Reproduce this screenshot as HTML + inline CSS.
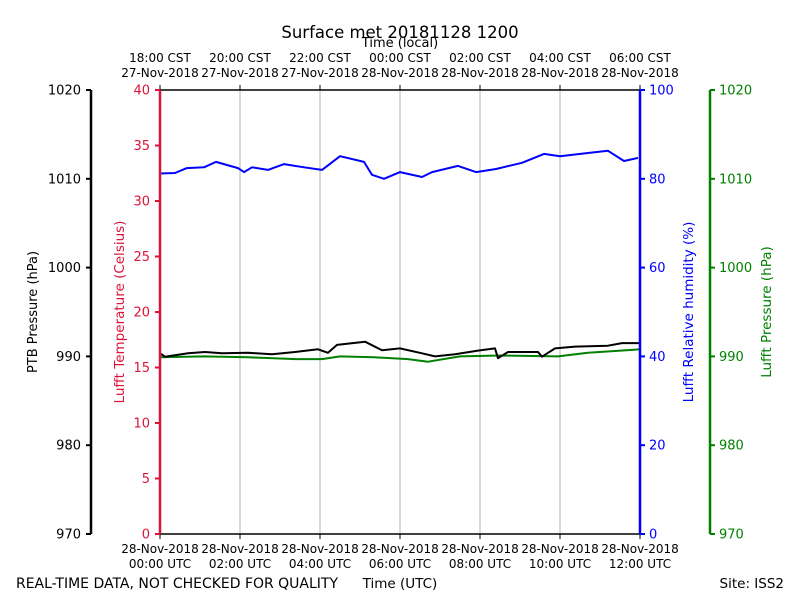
<!DOCTYPE html>
<html><head><meta charset="utf-8"><style>
body{margin:0;background:#fff;}
svg{display:block;font-family:"DejaVu Sans","Liberation Sans",sans-serif;}
</style></head><body>
<svg id="chart" width="800" height="600" viewBox="0 0 800 600" xmlns="http://www.w3.org/2000/svg">
<g id="grid"></g>
<g id="series"></g>
<g id="axes"></g>
<text x="400" y="38" text-anchor="middle" font-size="16.5">Surface met 20181128 1200</text>
<text x="400" y="47" text-anchor="middle" font-size="13">Time (local)</text>
<text x="400" y="588" text-anchor="middle" font-size="13.5">Time (UTC)</text>
<text x="16" y="588" font-size="14" textLength="322">REAL-TIME DATA, NOT CHECKED FOR QUALITY</text>
<text x="784" y="588" text-anchor="end" font-size="13.5">Site: ISS2</text>
<text transform="translate(37,312) rotate(-90)" text-anchor="middle" font-size="13">PTB Pressure (hPa)</text>
<text transform="translate(124,312) rotate(-90)" text-anchor="middle" font-size="13.5" fill="#dc143c">Lufft Temperature (Celsius)</text>
<text transform="translate(693,312) rotate(-90)" text-anchor="middle" font-size="13.5" fill="#0000ff">Lufft Relative humidity (%)</text>
<text transform="translate(771,312) rotate(-90)" text-anchor="middle" font-size="13.5" fill="#008000">Lufft Pressure (hPa)</text>
</svg>
<script>
const rhHours=[0,0.375,0.67,1.1,1.4,1.95,2.1,2.3,2.7,3.1,3.6,4.05,4.5,5.1,5.3,5.6,6,6.55,6.8,7.45,7.9,8.4,9.05,9.6,10,10.7,11.2,11.6,11.95];
const rhValues=[81.2,81.3,82.4,82.6,83.8,82.4,81.5,82.6,82,83.3,82.6,82,85.1,83.8,80.9,80,81.5,80.4,81.5,82.9,81.5,82.2,83.6,85.6,85.1,85.8,86.3,84,84.7];
const ptbHours=[0,0.125,0.7,1.125,1.55,2.2,2.8,3.375,3.95,4.2,4.425,5.125,5.55,6,6.55,6.875,7.375,7.95,8.375,8.45,8.7,9.45,9.55,9.875,10.375,11.2,11.55,12];
const ptbValues=[990.35,989.97,990.35,990.5,990.35,990.4,990.25,990.5,990.8,990.4,991.3,991.65,990.7,990.9,990.35,990.0,990.25,990.65,990.9,989.8,990.5,990.5,989.97,990.9,991.1,991.2,991.5,991.5];
const lufftHours=[0,1.1,2.2,3.4,4.05,4.5,5.35,6.2,6.7,7.5,8.5,9.95,10.7,12];
const lufftValues=[989.9,990.0,989.9,989.7,989.7,990.0,989.9,989.7,989.4,990.0,990.1,990.0,990.4,990.8];
const utcTicks=["28-Nov-2018|00:00 UTC","28-Nov-2018|02:00 UTC","28-Nov-2018|04:00 UTC","28-Nov-2018|06:00 UTC","28-Nov-2018|08:00 UTC","28-Nov-2018|10:00 UTC","28-Nov-2018|12:00 UTC"];
const localTicks=["18:00 CST|27-Nov-2018","20:00 CST|27-Nov-2018","22:00 CST|27-Nov-2018","00:00 CST|28-Nov-2018","02:00 CST|28-Nov-2018","04:00 CST|28-Nov-2018","06:00 CST|28-Nov-2018"];
const tempTicks=[0,5,10,15,20,25,30,35,40];
const rhTicks=[0,20,40,60,80,100];
const presTicks=[970,980,990,1000,1010,1020];

const NS="http://www.w3.org/2000/svg";
const X0=160,X1=640,Y0=534,Y1=90;
const xs=h=>X0+(h/12)*(X1-X0);
const yT=v=>Y0-(v/40)*(Y0-Y1);
const yRH=v=>Y0-(v/100)*(Y0-Y1);
const yP=v=>Y0-((v-970)/50)*(Y0-Y1);
function mk(tag,attrs,parent){const e=document.createElementNS(NS,tag);for(const k in attrs)e.setAttribute(k,attrs[k]);parent.appendChild(e);return e;}
const grid=document.getElementById('grid'),series=document.getElementById('series'),axes=document.getElementById('axes');

utcTicks.forEach((t,i)=>{
  const x=xs(i*2);
  if(i>0&&i<6){const g=mk('line',{x1:x,x2:x,y1:Y1,y2:Y0,stroke:'#b0b0b0','stroke-width':1},grid);
  
  }
  mk('line',{x1:x,x2:x,y1:Y0,y2:Y0+5,stroke:'#000'},axes);
  mk('line',{x1:x,x2:x,y1:Y1,y2:Y1-5,stroke:'#000'},axes);
  const p=t.split('|');
  const tx=mk('text',{x:x,y:553,'text-anchor':'middle','font-size':12},axes);
  
  
  tx.innerHTML='<tspan x="'+x+'">'+p[0]+'</tspan><tspan x="'+x+'" dy="15">'+p[1]+'</tspan>';
  const q=localTicks[i].split('|');
  const lx=mk('text',{x:x,y:62,'text-anchor':'middle','font-size':12},axes);
  
  
  lx.innerHTML='<tspan x="'+x+'">'+q[0]+'</tspan><tspan x="'+x+'" dy="15">'+q[1]+'</tspan>';
});
function line(hs,vs,yf,color,name){
  const d=hs.map((h,i)=>(i?'L':'M')+xs(h).toFixed(1)+','+yf(vs[i]).toFixed(1)).join('');
  const p=mk('path',{d:d,fill:'none',stroke:color,'stroke-width':2,'stroke-linejoin':'round'},series);
  
  
}
line(lufftHours,lufftValues,yP,'#008000','lufft-pressure-line');
line(ptbHours,ptbValues,yP,'#000000','ptb-pressure-line');
line(rhHours,rhValues,yRH,'#0000ff','humidity-line');

mk('line',{x1:X0,x2:X1,y1:Y1,y2:Y1,stroke:'#000','stroke-width':1.5},axes);
mk('line',{x1:X0,x2:X1,y1:Y0,y2:Y0,stroke:'#000','stroke-width':1.5},axes);
function vaxis(x,color,ticks,yf,side,name){
  const s=mk('line',{x1:x,x2:x,y1:Y1,y2:Y0,stroke:color,'stroke-width':2.5},axes);
  
  
  ticks.forEach(v=>{
    const y=yf(v);
    const dx=side<0?-5:5;
    mk('line',{x1:x,x2:x+dx,y1:y,y2:y,stroke:color,'stroke-width':2},axes);
    const t=mk('text',{x:x+(side<0?-10:9),y:y+4.5,'text-anchor':side<0?'end':'start','font-size':13,fill:color},axes);
    
    
    t.textContent=v;
  });
}
vaxis(91,'#000000',presTicks,yP,-1,'ptb-pressure-axis');
vaxis(160,'#dc143c',tempTicks,yT,-1,'temperature-axis');
vaxis(640,'#0000ff',rhTicks,yRH,1,'humidity-axis');
vaxis(710,'#008000',presTicks,yP,1,'lufft-pressure-axis');
</script>
</body></html>
